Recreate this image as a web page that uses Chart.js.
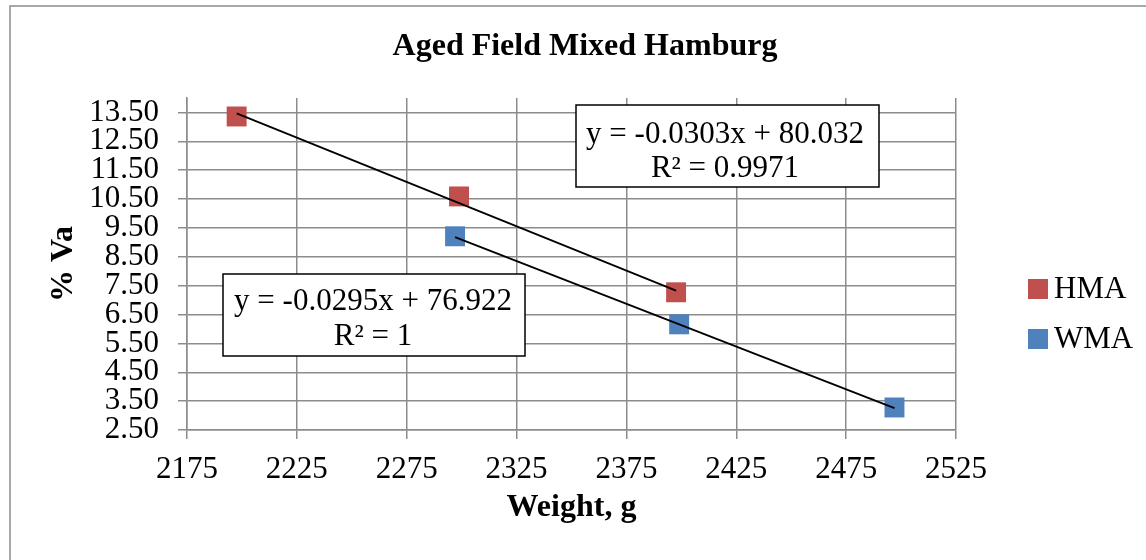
<!DOCTYPE html>
<html lang="en">
<head>
    <meta charset="UTF-8">
    <title>Aged Field Mixed Hamburg</title>
    <script src="https://cdn.jsdelivr.net/npm/chart.js"></script>
    <style>
        body {
            margin: 0;
            padding: 0;
            background-color: white;
        }
        .chart-container {
            width: 1146px;
            height: 560px;
            position: relative;
        }
    </style>
</head>
<body>
    <div class="chart-container">
        <canvas id="vaChart"></canvas>
    </div>

    <script>
        // Values
        const hmaWeight = [2197.6, 2298.8, 2397.6];
        const hmaVa = [13.36, 10.59, 7.27];
        const wmaWeight = [2297, 2399, 2497];
        const wmaVa = [9.21, 6.16, 3.28];

        // Trendline end points (as drawn in the picture)
        const hmaTrendWeight = [2197.6, 2397.6];
        const hmaTrendVa = [13.47, 7.33];
        const wmaTrendWeight = [2297, 2497];
        const wmaTrendVa = [9.18, 3.26];

        const xTicks = [2175, 2225, 2275, 2325, 2375, 2425, 2475, 2525];
        const yTicks = [2.5, 3.5, 4.5, 5.5, 6.5, 7.5, 8.5, 9.5, 10.5, 11.5, 12.5, 13.5];

        const hmaEquation = ['y = -0.0303x + 80.032', 'R² = 0.9971'];
        const wmaEquation = ['y = -0.0295x + 76.922', 'R² = 1'];

        const serif = "'Liberation Serif', 'Times New Roman', serif";
        const gridGray = '#8c8c8c';

        const toPoints = (xs, ys) => xs.map((x, i) => ({ x: x, y: ys[i] }));

        // Title, outer frame, legend and equation boxes
        const decorations = {
            id: 'decorations',
            afterDraw(chart) {
                const ctx = chart.ctx;
                ctx.save();

                // outer frame
                ctx.strokeStyle = gridGray;
                ctx.lineWidth = 1.5;
                ctx.beginPath();
                ctx.moveTo(10, 560);
                ctx.lineTo(10, 6);
                ctx.lineTo(1146, 6);
                ctx.stroke();

                // title
                ctx.fillStyle = '#000';
                ctx.font = 'bold 32px ' + serif;
                ctx.textAlign = 'center';
                ctx.textBaseline = 'alphabetic';
                ctx.fillText('Aged Field Mixed Hamburg', 585, 55);

                // equation boxes
                function eqBox(left, top, right, bottom, cx, lines, baselines) {
                    ctx.fillStyle = 'white';
                    ctx.fillRect(left, top, right - left, bottom - top);
                    ctx.strokeStyle = '#000';
                    ctx.lineWidth = 1.5;
                    ctx.strokeRect(left, top, right - left, bottom - top);
                    ctx.fillStyle = '#000';
                    ctx.font = '31px ' + serif;
                    ctx.textAlign = 'center';
                    lines.forEach((t, i) => ctx.fillText(t, cx, baselines[i]));
                }
                eqBox(576, 105, 879, 187, 725, hmaEquation, [143, 177]);
                eqBox(223, 274, 525, 356, 373, wmaEquation, [310, 345]);

                // legend
                const legendRows = [289, 339];
                [0, 1].forEach((di, i) => {
                    const ds = chart.data.datasets[di];
                    ctx.fillStyle = ds.backgroundColor;
                    ctx.fillRect(1028, legendRows[i] - 10, 20, 20);
                    ctx.fillStyle = '#000';
                    ctx.font = '31px ' + serif;
                    ctx.textAlign = 'left';
                    ctx.textBaseline = 'middle';
                    ctx.fillText(ds.label, 1054, legendRows[i] + 1);
                });

                ctx.restore();
            }
        };

        const ctx = document.getElementById('vaChart').getContext('2d');

        const vaChart = new Chart(ctx, {
            type: 'scatter',
            data: {
                datasets: [
                    {
                        label: 'HMA',
                        data: toPoints(hmaWeight, hmaVa),
                        backgroundColor: '#c0504d',
                        borderColor: '#c0504d',
                        pointStyle: 'rect',
                        pointRadius: 14.1,
                        pointBorderWidth: 0,
                        order: 2
                    },
                    {
                        label: 'WMA',
                        data: toPoints(wmaWeight, wmaVa),
                        backgroundColor: '#4f81bd',
                        borderColor: '#4f81bd',
                        pointStyle: 'rect',
                        pointRadius: 14.1,
                        pointBorderWidth: 0,
                        order: 2
                    },
                    {
                        label: 'HMA trend',
                        type: 'line',
                        data: toPoints(hmaTrendWeight, hmaTrendVa),
                        borderColor: '#000',
                        borderWidth: 1.8,
                        pointRadius: 0,
                        fill: false,
                        order: 1
                    },
                    {
                        label: 'WMA trend',
                        type: 'line',
                        data: toPoints(wmaTrendWeight, wmaTrendVa),
                        borderColor: '#000',
                        borderWidth: 1.8,
                        pointRadius: 0,
                        fill: false,
                        order: 1
                    }
                ]
            },
            options: {
                responsive: true,
                maintainAspectRatio: false,
                animation: false,
                layout: {
                    padding: { top: 98, right: 190, left: 0, bottom: 0 }
                },
                plugins: {
                    legend: { display: false },
                    title: { display: false },
                    tooltip: { enabled: false }
                },
                scales: {
                    x: {
                        type: 'linear',
                        min: 2175,
                        max: 2525,
                        afterFit: scale => { scale.height = 130; },
                        afterBuildTicks: scale => { scale.ticks = xTicks.map(v => ({ value: v })); },
                        ticks: {
                            color: '#000',
                            font: { family: serif, size: 31 },
                            padding: 12,
                            autoSkip: false,
                            maxRotation: 0,
                            callback: v => String(v)
                        },
                        grid: {
                            color: gridGray,
                            lineWidth: 1.5,
                            tickLength: 9
                        },
                        border: { color: gridGray, width: 1.5 },
                        title: {
                            display: true,
                            text: 'Weight, g',
                            color: '#000',
                            font: { family: serif, size: 32, weight: 'bold' },
                            padding: { top: 0, bottom: 33 }
                        }
                    },
                    y: {
                        type: 'linear',
                        min: 2.5,
                        max: 14,
                        afterFit: scale => { scale.width = 187; },
                        afterBuildTicks: scale => { scale.ticks = yTicks.map(v => ({ value: v })); },
                        ticks: {
                            color: '#000',
                            font: { family: serif, size: 31 },
                            padding: 19,
                            autoSkip: false,
                            callback: v => Number(v).toFixed(2)
                        },
                        grid: {
                            color: gridGray,
                            lineWidth: 1.5,
                            tickLength: 9
                        },
                        border: { color: gridGray, width: 1.5 },
                        title: {
                            display: true,
                            text: '% Va',
                            color: '#000',
                            font: { family: serif, size: 32, weight: 'bold' },
                            padding: { top: 45, bottom: 0 }
                        }
                    }
                }
            },
            plugins: [decorations]
        });
    </script>
</body>
</html>
